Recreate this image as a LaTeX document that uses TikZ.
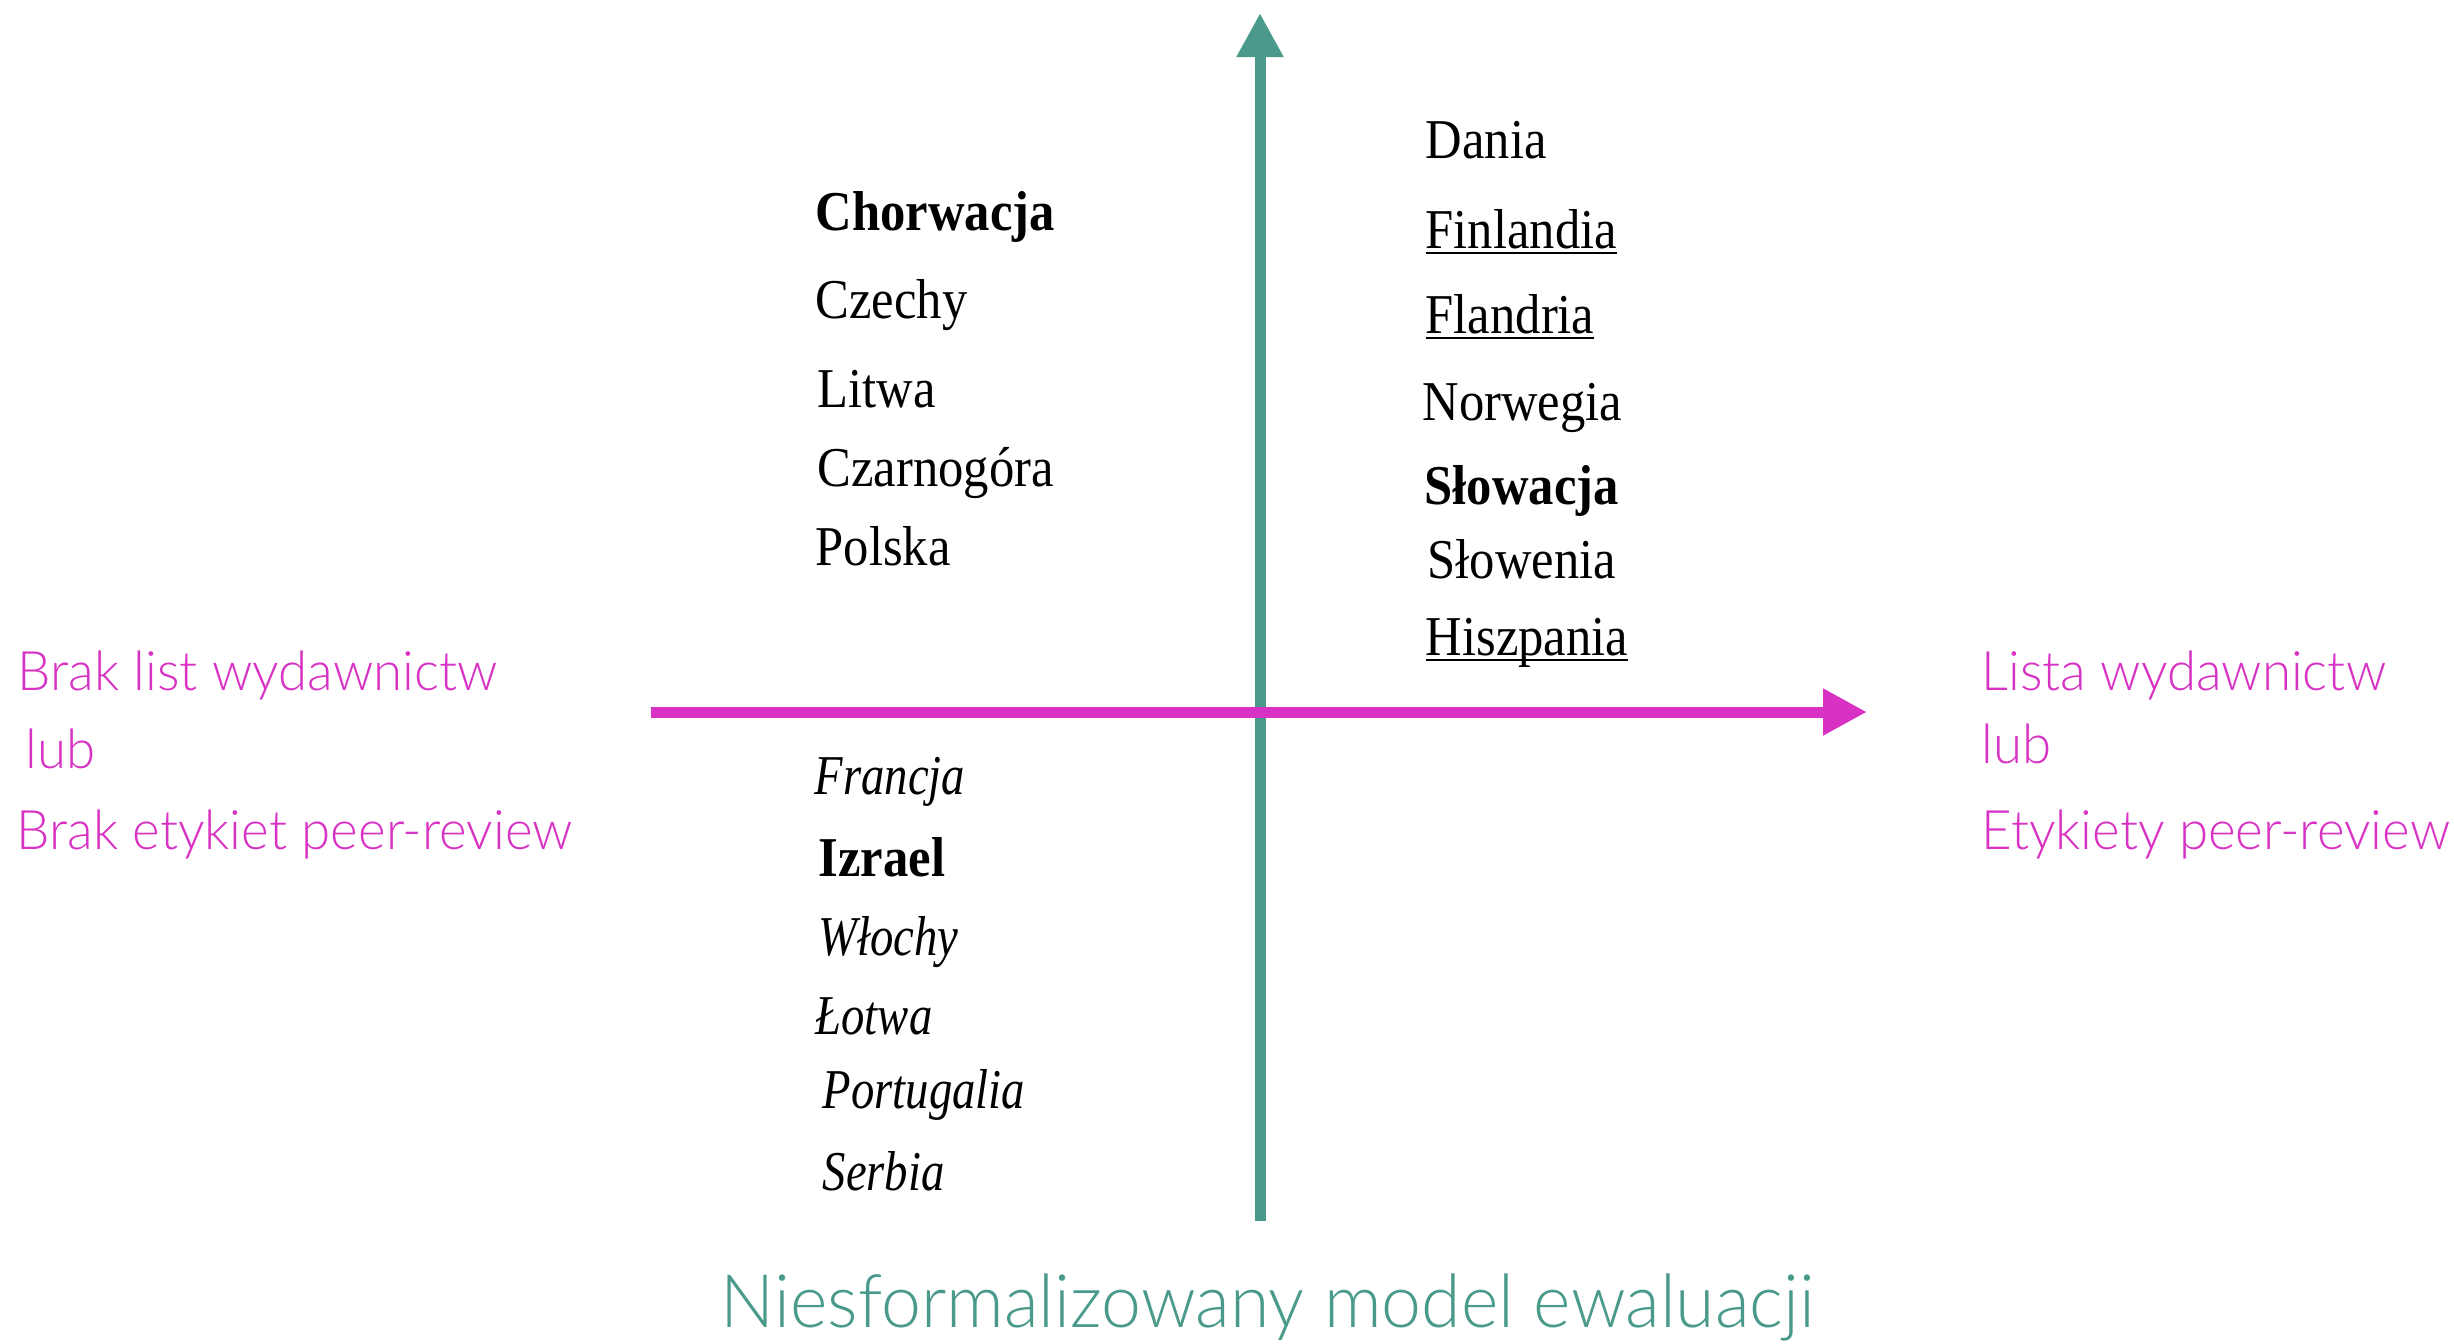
\documentclass[tikz,border=0pt]{standalone}
\usepackage{fontspec}
\setmainfont{Liberation Serif}[
  UprightFeatures={FakeStretch=0.9},
  BoldFeatures={FakeStretch=0.9},
  ItalicFeatures={FakeStretch=0.83}]
\newfontfamily\labelfont{Lato Light}[FakeStretch=0.97]
\usetikzlibrary{arrows.meta}
\definecolor{axisteal}{RGB}{74,154,139}
\definecolor{axispink}{RGB}{216,50,196}
\newcommand{\undl}[1]{\underline{\smash{#1}}}
\tikzset{
  country/.style={anchor=base west, inner sep=0pt, font=\fontsize{16}{19}\selectfont},
  side/.style={anchor=base west, inner sep=0pt, text=axispink, font=\labelfont\fontsize{15.5}{18}\selectfont},
}
\begin{document}
\begin{tikzpicture}[x=0.1mm, y=-0.1mm]
      \useasboundingbox (0,0) rectangle (2454,1343);
      \draw
        (815,230) node[country] (chorwacja){\textbf{Chorwacja}}
        (815,318) node[country] (czechy){Czechy}
        (817,407) node[country] (litwa){Litwa}
        (817,486) node[country] (czarnogora){Czarnogóra}
        (815,565) node[country] (polska){Polska};
      \draw
        (1425,158) node[country] (dania){Dania}
        (1425,248) node[country] (finlandia){\undl{Finlandia}}
        (1425,333) node[country] (flandria){\undl{Flandria}}
        (1422,420) node[country] (norwegia){Norwegia}
        (1424,504) node[country] (slowacja){\textbf{Słowacja}}
        (1427,578) node[country] (slowenia){Słowenia}
        (1425,655) node[country] (hiszpania){\undl{Hiszpania}};
      \draw
        (814,794) node[country] (francja){\textit{Francja}}
        (818,876) node[country] (izrael){\textbf{Izrael}}
        (818,955) node[country] (wlochy){\textit{Włochy}}
        (815,1034) node[country] (lotwa){\textit{Łotwa}}
        (822,1108) node[country] (portugalia){\textit{Portugalia}}
        (822,1190) node[country] (serbia){\textit{Serbia}};
      \draw
        (17,690) node[side] (braklist){Brak list wydawnictw}
        (25,768) node[side] (lubleft){lub}
        (16,849) node[side] (brakety){Brak etykiet peer-review}
        (1981,690) node[side] (lista){Lista wydawnictw}
        (1981,763) node[side] (lubright){lub}
        (1981,849) node[side] (etykiety){Etykiety peer-review};
      \node[anchor=base, inner sep=0pt, text=axisteal, font=\labelfont\fontsize{21}{25}\selectfont]
        (model) at (1268,1327) {Niesformalizowany model ewaluacji};
      \coordinate (ybot) at (1260,1221);
      \coordinate (ytop) at (1260,13);
      \coordinate (xleft) at (651,712);
      \coordinate (xright) at (1867,712);
      \begin{scope}[line width=1.1mm]
        \draw[axisteal, -{Triangle[length=4.4mm, width=4.4mm]}] (ybot) to (ytop);
        \draw[axispink, -{Triangle[length=4.4mm, width=4.4mm]}] (xleft) to (xright);
      \end{scope}
    \end{tikzpicture}
\end{document}
